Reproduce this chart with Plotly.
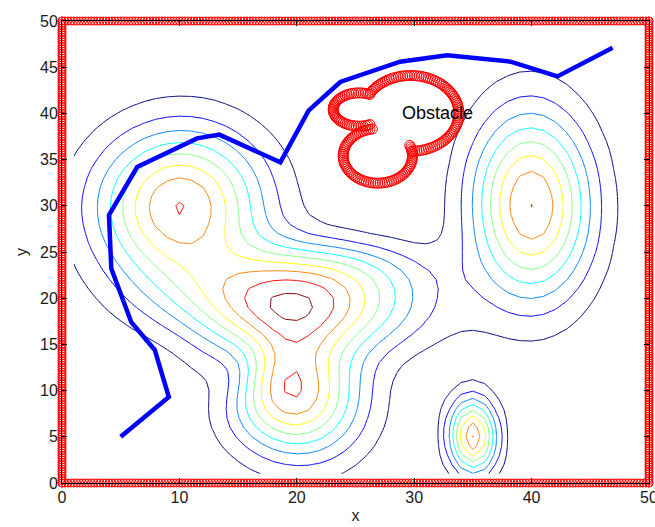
import numpy as np
import plotly.graph_objects as go

# ---------------- data ----------------
# potential-field hills (amplitude, centre, shape terms of each bump)
hill_amp = [8.00, 1.721, 8.05, 8.01, 8.01, 7.805, -1.841]
hill_x0 = [10.028, 23.998, 19.546, 39.984, 35.003, 20.009, 15.055]
hill_y0 = [30.000, 23.550, 9.985, 30.078, 5.072, 19.584, 12.121]
hill_m1 = [0.200, 0.186, 0.250, 0.279, 0.697, 0.149, 0.488]
hill_m2 = [-0.003, 0.042, 0.022, 0.003, 0.014, 0.025, -0.111]
hill_m3 = [0.172, 0.434, 0.206, 0.141, 0.348, 0.280, 0.344]

grid_x = list(range(1, 51))
grid_y = list(range(1, 51))
contour_levels = [1, 2, 3, 4, 5, 6, 7, 8, 9]

# planned path
path_x = [5, 9.1, 7.9, 5.9, 4.2, 4.0, 6.4, 11.5, 13.4, 18.6, 21.0, 23.7, 28.8, 32.8, 38.2, 42.2, 46.9]
path_y = [5, 9.3, 14.4, 17.4, 23.2, 29.0, 34.2, 37.3, 37.7, 34.7, 40.3, 43.4, 45.6, 46.3, 45.6, 44.0, 47.1]

# boundary walls
wall_min, wall_max, wall_step = 0, 50, 0.25

# obstacle outline: arcs (centre, radii, start/end angle in degrees)
obs_cx = [29.7, 26.9, 25.3]
obs_cy = [40.0, 35.4, 40.42]
obs_rx = [4.1, 2.95, 2.2]
obs_ry = [4.1, 2.95, 1.8]
obs_a0 = [147, 22.7, -65]
obs_a1 = [-88, -261, -295]
obs_spacing = 0.2
obs_label = "Obstacle"
obs_label_x, obs_label_y = 28.8, 40.0

x_ticks = [0, 10, 20, 30, 40, 50]
y_ticks = [0, 5, 10, 15, 20, 25, 30, 35, 40, 45, 50]

# ---------------- build ----------------
GX, GY = np.meshgrid(np.array(grid_x, float), np.array(grid_y, float))
Z = np.zeros_like(GX)
for a, x0, y0, m1, m2, m3 in zip(hill_amp, hill_x0, hill_y0, hill_m1, hill_m2, hill_m3):
    dx = GX - x0
    dy = GY - y0
    Z += a * np.exp(-0.5 * ((m1 * dx + m2 * dy) ** 2 + (m3 * dy) ** 2))

jet9 = ["#000080", "#0000FF", "#0080FF", "#00FFFF", "#80FF80", "#FFFF00", "#FF8000", "#FF0000", "#800000"]
cs = [[i / 8, c] for i, c in enumerate(jet9)]

# wall points
edge = np.arange(wall_min, wall_max + wall_step / 2, wall_step)
wx = np.concatenate([edge, edge, np.full_like(edge, wall_min), np.full_like(edge, wall_max)])
wy = np.concatenate([np.full_like(edge, wall_min), np.full_like(edge, wall_max), edge, edge])

# obstacle points
ox, oy = [], []
for cx, cy, rx, ry, a0, a1 in zip(obs_cx, obs_cy, obs_rx, obs_ry, obs_a0, obs_a1):
    n = int(abs(a1 - a0) / 360 * 2 * np.pi * max(rx, ry) / obs_spacing) + 1
    t = np.radians(np.linspace(a0, a1, n))
    ox.extend(cx + rx * np.cos(t))
    oy.extend(cy + ry * np.sin(t))

FONT = "Liberation Sans, Arial, Helvetica, sans-serif"
TXT = "#1a1a1a"

fig = go.Figure()
fig.add_trace(go.Contour(
    x=grid_x, y=grid_y, z=Z, zauto=False, zmin=contour_levels[0], zmax=contour_levels[-1],
    colorscale=cs, showscale=False,
    contours=dict(start=contour_levels[0], end=contour_levels[-1], size=1, coloring="lines"),
    line=dict(width=1, smoothing=0), hoverinfo="skip"))
fig.add_trace(go.Scatter(x=path_x, y=path_y, mode="lines", line=dict(color="#0000FF", width=4.5),
                         hoverinfo="skip"))
fig.add_trace(go.Scatter(x=ox, y=oy, mode="markers",
                         marker=dict(symbol="circle-open", size=10, color="#FF0000", line=dict(width=1)),
                         hoverinfo="skip"))
fig.add_trace(go.Scatter(x=wx, y=wy, mode="markers", cliponaxis=False,
                         marker=dict(symbol="circle-open", size=8, color="#FF0000", line=dict(width=1)),
                         hoverinfo="skip"))
fig.add_annotation(x=obs_label_x, y=obs_label_y, text=obs_label, showarrow=False, xanchor="left",
                   yanchor="middle", font=dict(family=FONT, size=18, color="black"))

fig.update_layout(width=655, height=527, margin=dict(l=62, r=6, t=21, b=44, autoexpand=False),
                  plot_bgcolor="white", paper_bgcolor="white", showlegend=False,
                  font=dict(family=FONT, size=16, color=TXT))
axis_common = dict(showgrid=False, zeroline=False, showline=True, linecolor="black", linewidth=1,
                   mirror="ticks", ticks="inside", ticklen=5, tickwidth=1, tickcolor="black",
                   automargin=False, ticklabeloverflow="allow",
                   tickfont=dict(family=FONT, size=16, color=TXT))
fig.update_xaxes(range=[0, 50], tickvals=x_ticks, title=dict(text="x", standoff=4,
                 font=dict(family=FONT, size=16, color=TXT)), **axis_common)
fig.update_yaxes(range=[0, 50], tickvals=y_ticks, title=dict(text="y", standoff=8,
                 font=dict(family=FONT, size=16, color=TXT)), **axis_common)
fig.write_html("out.html")
